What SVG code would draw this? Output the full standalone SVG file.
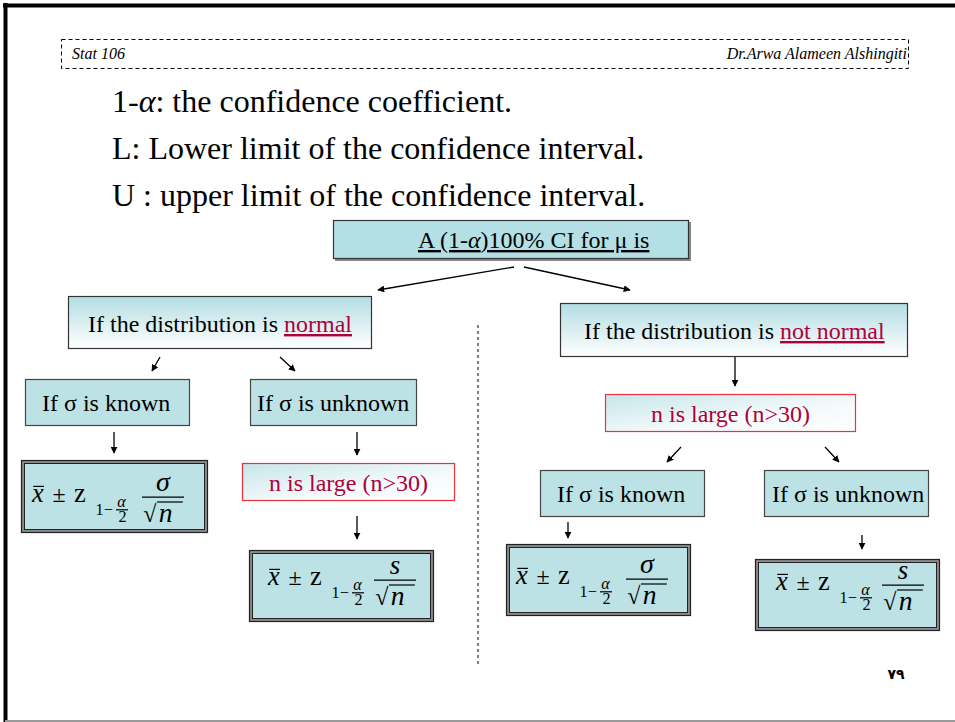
<svg xmlns="http://www.w3.org/2000/svg" width="955" height="722" viewBox="0 0 955 722">
<style>
text{font-family:"Liberation Serif","Times New Roman",serif;fill:#000}
.hdr{font-size:16px;font-style:italic}
.big{font-size:32px}
.nd{font-size:24px}
.red{fill:#b0003a}
.it{font-style:italic}
.box{fill:#bde2e6;stroke:#444;stroke-width:1.2}
.shadow{fill:#888}
.conn line{stroke:#000;stroke-width:1.3;marker-end:url(#ah)}
.fl{stroke:#000;stroke-width:1}
.fo{fill:#8a8a8a;stroke:#222;stroke-width:1.2}
.fi{fill:#bde2e6;stroke:#222;stroke-width:1}
</style>
<defs>
<marker id="ah" viewBox="0 0 10 10" refX="9" refY="5" markerWidth="7" markerHeight="7" markerUnits="userSpaceOnUse" orient="auto">
<path d="M0,0 L10,5 L0,10 z" fill="#000"/>
</marker>
<linearGradient id="gb" x1="0" y1="0" x2="0" y2="1">
<stop offset="0" stop-color="#b3dde3"/>
<stop offset="1" stop-color="#ffffff"/>
</linearGradient>
<linearGradient id="gr" x1="0" y1="0" x2="1" y2="1">
<stop offset="0" stop-color="#c6e6ea"/>
<stop offset="0.6" stop-color="#f4fafb"/>
<stop offset="1" stop-color="#ffffff"/>
</linearGradient>
<g id="core">
<text x="0" y="0" font-size="22" class="it">x</text>
<line class="fl" x1="1" y1="-13" x2="10" y2="-13"/>
<text x="17" y="0" font-size="20">±</text>
<text x="35" y="0" font-size="22">z</text>
<text x="53" y="11" font-size="13.5">1−</text>
<text x="71" y="4" font-size="13.5" class="it">α</text>
<line class="fl" x1="70" y1="6.5" x2="80" y2="6.5"/>
<text x="72" y="16.5" font-size="13.5">2</text>
</g>
<g id="frac">
<line class="fl" x1="0" y1="-4" x2="35" y2="-4"/>
<text x="1" y="17" font-size="20">√</text>
<line class="fl" x1="12.5" y1="0" x2="34" y2="0"/>
<text x="14" y="17" font-size="23" class="it">n</text>
</g>
</defs>

<rect width="955" height="722" fill="#fff"/>
<line x1="5.5" y1="3" x2="5.5" y2="722" stroke="#000" stroke-width="4"/>
<line x1="3" y1="5.5" x2="955" y2="5.5" stroke="#000" stroke-width="4"/>
<line x1="5" y1="721" x2="955" y2="721" stroke="#999" stroke-width="2"/>

<g id="header">
<rect x="61.5" y="39.5" width="847" height="29" fill="none" stroke="#000" stroke-width="1" stroke-dasharray="4,3"/>
<text class="hdr" x="72" y="59">Stat 106</text>
<text class="hdr" x="907" y="59" text-anchor="end">Dr.Arwa Alameen Alshingiti</text>
</g>

<g id="intro">
<text class="big" x="112" y="112">1-<tspan class="it">α</tspan>: the confidence coefficient.</text>
<text class="big" x="112" y="159">L: Lower limit of the confidence interval.</text>
<text class="big" x="112" y="206">U : upper limit of the confidence interval.</text>
</g>

<line x1="478" y1="325" x2="478" y2="665" stroke="#000" stroke-width="1" stroke-dasharray="3,3"/>

<g class="conn" id="connectors">
<line x1="514" y1="267" x2="378" y2="290"/>
<line x1="524" y1="267" x2="630" y2="290"/>
<line x1="160" y1="357" x2="152" y2="371"/>
<line x1="280" y1="357" x2="295" y2="371"/>
<line x1="114" y1="432" x2="114" y2="453"/>
<line x1="357" y1="432" x2="357" y2="455"/>
<line x1="357" y1="516" x2="357" y2="539"/>
<line x1="735" y1="357" x2="735" y2="386"/>
<line x1="681" y1="447" x2="667" y2="462"/>
<line x1="825" y1="447" x2="839" y2="462"/>
<line x1="568" y1="522" x2="568" y2="538"/>
<line x1="862" y1="535" x2="862" y2="549"/>
</g>

<g id="top">
<rect x="335" y="222" width="356" height="39" class="shadow"/>
<rect x="333.5" y="220.5" width="355" height="38" fill="#b4dfe5" stroke="#333" stroke-width="1.2"/>
<text x="418" y="248" font-size="24" text-decoration="underline">A (1-<tspan class="it">α</tspan>)100% CI for μ is</text>
</g>

<g id="normal">
<rect x="68.5" y="296.5" width="303" height="52" fill="url(#gb)" stroke="#333" stroke-width="1.2"/>
<text class="nd" x="88" y="332">If the distribution is <tspan class="red" text-decoration="underline">normal</tspan></text>
</g>

<g id="notnormal">
<rect x="560.5" y="303.5" width="347" height="53" fill="url(#gb)" stroke="#333" stroke-width="1.2"/>
<text class="nd" x="584" y="339">If the distribution is <tspan class="red" text-decoration="underline">not normal</tspan></text>
</g>

<g id="known-l">
<rect x="25.5" y="379.5" width="164" height="46" class="box"/>
<text class="nd" x="42" y="411">If σ is known</text>
</g>
<g id="unknown-l">
<rect x="250.5" y="379.5" width="166" height="46" class="box"/>
<text class="nd" x="257" y="411">If σ is unknown</text>
</g>

<g id="large-l">
<rect x="242.5" y="463.5" width="212" height="37" fill="url(#gr)" stroke="#e8333a" stroke-width="1.2"/>
<text class="nd red" x="348.5" y="491" text-anchor="middle">n is large (n&gt;30)</text>
</g>

<g id="large-r">
<rect x="605.5" y="394.5" width="250" height="37" fill="url(#gr)" stroke="#e8333a" stroke-width="1.2"/>
<text class="nd red" x="730.5" y="422" text-anchor="middle">n is large (n&gt;30)</text>
</g>

<g id="known-r">
<rect x="540.5" y="470.5" width="164" height="46" class="box"/>
<text class="nd" x="557" y="502">If σ is known</text>
</g>
<g id="unknown-r">
<rect x="764.5" y="470.5" width="164" height="46" class="box"/>
<text class="nd" x="772" y="502">If σ is unknown</text>
</g>

<g id="f1">
<rect x="21.5" y="460.5" width="186" height="72" class="fo"/>
<rect x="24.5" y="463.5" width="180" height="66" class="fi"/>
<use href="#core" transform="translate(32,502) scale(1.2)"/>
<use href="#frac" transform="translate(142,502) scale(1.2)"/>
<text x="163" y="491" font-size="28" class="it" text-anchor="middle">σ</text>
</g>

<g id="f2">
<rect x="249.5" y="550.5" width="184" height="71" class="fo"/>
<rect x="252.5" y="553.5" width="178" height="65" class="fi"/>
<use href="#core" transform="translate(268,585) scale(1.2)"/>
<use href="#frac" transform="translate(374,585) scale(1.2)"/>
<text x="395" y="574" font-size="27" class="it" text-anchor="middle">s</text>
</g>

<g id="f3">
<rect x="506.5" y="544.5" width="184" height="71" class="fo"/>
<rect x="509.5" y="547.5" width="178" height="65" class="fi"/>
<use href="#core" transform="translate(516,584) scale(1.2)"/>
<use href="#frac" transform="translate(626,584) scale(1.2)"/>
<text x="647" y="573" font-size="28" class="it" text-anchor="middle">σ</text>
</g>

<g id="f4">
<rect x="755.5" y="559.5" width="184" height="71" class="fo"/>
<rect x="758.5" y="562.5" width="178" height="65" class="fi"/>
<use href="#core" transform="translate(776,590) scale(1.2)"/>
<use href="#frac" transform="translate(882,590) scale(1.2)"/>
<text x="903" y="579" font-size="27" class="it" text-anchor="middle">s</text>
</g>

<text x="896" y="679" font-size="14" font-weight="bold" text-anchor="middle" style="font-family:'DejaVu Sans',sans-serif">٧٩</text>
</svg>
